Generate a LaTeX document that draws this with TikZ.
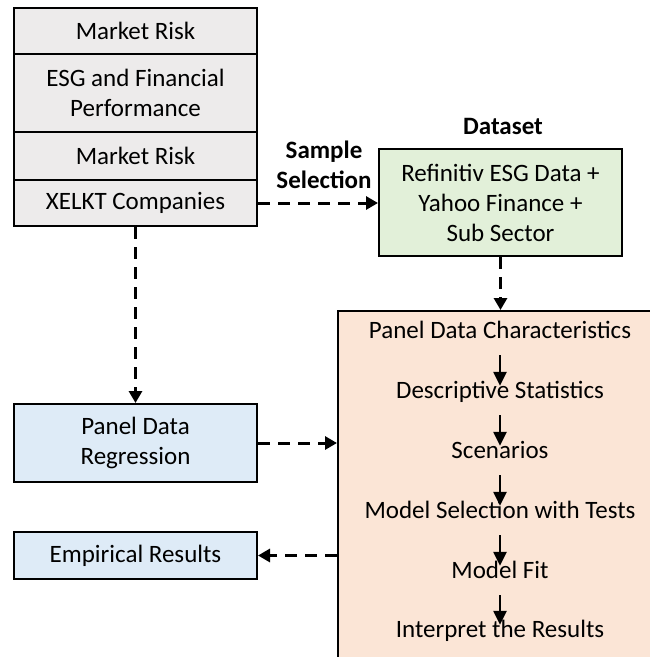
\documentclass[tikz,border=0pt]{standalone}
\usepackage{fontspec}
\setmainfont{Carlito}
\usetikzlibrary{arrows.meta}
\definecolor{greyfill}{HTML}{EDEBEB}
\definecolor{greenfill}{HTML}{E2F0D9}
\definecolor{bluefill}{HTML}{DEEBF7}
\definecolor{peachfill}{HTML}{FBE5D6}
\begin{document}
\begin{tikzpicture}[x=1pt,y=-1pt,
  box/.style={draw=black, line width=2pt, rectangle, inner sep=0pt, align=center,
    font=\fontsize{25}{30}\selectfont},
  dasharrow/.style={line width=3pt, dash pattern=on 12pt off 8pt,
    -{Triangle[length=12pt,width=13pt]}},
  steparrow/.style={line width=2.4pt, -{Triangle[length=14pt,width=13pt]}},
  lbl/.style={font=\fontsize{25}{30}\selectfont\bfseries, align=center, inner sep=0pt},
  stepnode/.style={font=\fontsize{25}{30}\selectfont, inner sep=0pt,
    text height=15pt, text depth=5pt}]
\useasboundingbox (0,0) rectangle (649,657);
\fill[white] (0,0) rectangle (649,657);
% left stack
\node[box, fill=greyfill, minimum width=243pt, minimum height=46pt] (mr1) at (135.5,31) {Market Risk};
\node[box, fill=greyfill, minimum width=243pt, minimum height=78pt] (esg) at (135.5,93) {ESG and Financial\\Performance};
\node[box, fill=greyfill, minimum width=243pt, minimum height=48pt] (mr2) at (135.5,156) {Market Risk};
\node[box, fill=greyfill, minimum width=243pt, minimum height=46pt] (xel) at (135.5,203) {XELKT Companies};
% dataset
\node[lbl] (dslbl) at (503,126) {Dataset};
\node[box, fill=greenfill, minimum width=243pt, minimum height=107pt] (ds) at (500.5,202.5) {Refinitiv ESG Data +\\Yahoo Finance +\\Sub Sector};
\node[lbl] (ss) at (324,165) {Sample\\Selection};
% peach panel
\node[box, fill=peachfill, minimum width=332pt, minimum height=369pt] (pp) at (504,495.5) {};
% left lower boxes
\node[box, fill=bluefill, minimum width=243pt, minimum height=78pt] (pdr) at (135.5,443) {Panel Data\\Regression};
\node[box, fill=bluefill, minimum width=243pt, minimum height=47pt] (emp) at (135.5,555.5) {Empirical Results};
% steps
\node[stepnode] (s1) at (500,333) {Panel Data Characteristics};
\node[stepnode] (s2) at (500,393) {Descriptive Statistics};
\node[stepnode] (s3) at (500,453) {Scenarios};
\node[stepnode] (s4) at (500,513) {Model Selection with Tests};
\node[stepnode] (s5) at (500,573) {Model Fit};
\node[stepnode] (s6) at (500,632) {Interpret the Results};
\foreach \a/\b in {s1/s2,s2/s3,s3/s4,s4/s5,s5/s6}
  \draw[steparrow, shorten <=12pt, shorten >=-3pt] (\a.south) -- (\b.north);
% dashed connectors
\draw[dasharrow] (xel.east) -- (xel.east -| ds.west);
\draw[dasharrow] (ds.south) -- (ds.south |- pp.north);
\draw[dasharrow] (xel.south) -- (pdr.north);
\draw[dasharrow] (pdr.east) -- (pdr.east -| pp.west);
\draw[dasharrow] (emp.east -| pp.west) -- (emp.east);
\end{tikzpicture}
\end{document}
